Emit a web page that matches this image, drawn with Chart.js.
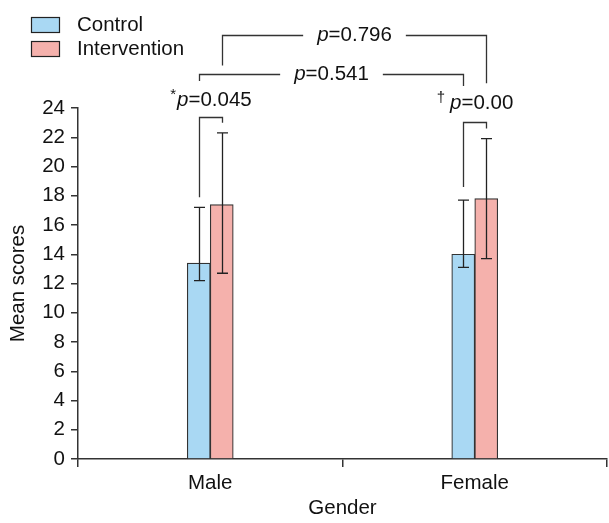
<!DOCTYPE html>
<html>
<head>
<meta charset="utf-8">
<script src="https://cdn.jsdelivr.net/npm/chart.js@4.4.1/dist/chart.umd.min.js"></script>
<style>
  html, body { margin: 0; padding: 0; background: #fff; }
</style>
</head>
<body>
<canvas id="myChart" width="609" height="523"></canvas>
<script>
// data
const groups = ['Male', 'Female'];
const seriesNames = ['Control', 'Intervention'];
const controlMean = [13.4, 14.0];
const interventionMean = [17.4, 17.8];
const controlLow = [12.2, 13.1];
const controlHigh = [17.2, 17.7];
const interventionLow = [12.7, 13.7];
const interventionHigh = [22.3, 21.9];
const yTicks = [0, 2, 4, 6, 8, 10, 12, 14, 16, 18, 20, 22, 24];
// p values: within Male, within Female, Male vs Female control, Male vs Female intervention
const pMarks = ['*', '\u2020', '', ''];
const pValues = ['0.045', '0.00', '0.541', '0.796'];

const FONT = '"Liberation Sans", Arial, sans-serif';
const FS = 20.5;
const INK = '#333333';

const lows = [controlLow, interventionLow];
const highs = [controlHigh, interventionHigh];

const errorBars = {
    id: 'errorBars',
    afterDatasetsDraw(chart) {
        const ctx = chart.ctx;
        const y = chart.scales.y;
        ctx.save();
        ctx.strokeStyle = '#222';
        ctx.lineWidth = 1.3;
        chart.data.datasets.forEach(function(ds, i) {
            chart.getDatasetMeta(i).data.forEach(function(bar, j) {
                const x = Math.round(bar.x) + 0.5;
                const yl = y.getPixelForValue(lows[i][j]);
                const yh = y.getPixelForValue(highs[i][j]);
                ctx.beginPath();
                ctx.moveTo(x, yl); ctx.lineTo(x, yh);
                ctx.moveTo(x - 5.5, yl); ctx.lineTo(x + 5.5, yl);
                ctx.moveTo(x - 5.5, yh); ctx.lineTo(x + 5.5, yh);
                ctx.stroke();
            });
        });
        ctx.restore();
    }
};

function pText(ctx, mark, value, cx, cy, measureOnly) {
    const parts = [];
    if (mark) parts.push({ t: mark, f: '15px ' + FONT, dy: -6, after: mark === '*' ? 1 : 5 });
    parts.push({ t: 'p', f: 'italic ' + FS + 'px ' + FONT, dy: 0, after: 0 });
    parts.push({ t: '=' + value, f: FS + 'px ' + FONT, dy: 0, after: 0 });
    let w = 0;
    parts.forEach(function(p) { ctx.font = p.f; p.w = ctx.measureText(p.t).width; w += p.w + p.after; });
    if (measureOnly) return w;
    let x = cx - w / 2;
    ctx.fillStyle = '#111';
    ctx.textBaseline = 'middle';
    ctx.textAlign = 'left';
    parts.forEach(function(p) {
        ctx.font = p.f;
        ctx.fillText(p.t, x, cy + p.dy);
        x += p.w + p.after;
    });
    return w;
}

const brackets = {
    id: 'brackets',
    afterDraw(chart) {
        const ctx = chart.ctx;
        const y = chart.scales.y;
        const c = chart.getDatasetMeta(0).data;
        const t = chart.getDatasetMeta(1).data;
        const specs = [
            { x1: c[0].x, x2: t[0].x, top: 23.4, l1: 17.9, l2: 23.0, inline: false, ty: 24.5, k: 0 },
            { x1: c[1].x, x2: t[1].x, top: 23.05, l1: 18.6, l2: 22.6, inline: false, ty: 24.3, k: 1 },
            { x1: c[0].x, x2: c[1].x, top: 26.3, l1: 25.85, l2: 25.5, inline: true, k: 2 },
            { x1: t[0].x, x2: t[1].x, top: 29.0, l1: 26.9, l2: 25.7, inline: true, k: 3 }
        ];
        ctx.save();
        ctx.strokeStyle = INK;
        ctx.lineWidth = 1.3;
        specs.forEach(function(s) {
            const x1 = Math.round(s.x1) + 0.5, x2 = Math.round(s.x2) + 0.5;
            const yt = Math.round(y.getPixelForValue(s.top)) + 0.5;
            const cx = (x1 + x2) / 2;
            ctx.beginPath();
            ctx.moveTo(x1, y.getPixelForValue(s.l1));
            ctx.lineTo(x1, yt);
            if (s.inline) {
                const w = pText(ctx, pMarks[s.k], pValues[s.k], cx, yt, true);
                ctx.lineTo(cx - w / 2 - 14, yt);
                ctx.moveTo(cx + w / 2 + 14, yt);
            }
            ctx.lineTo(x2, yt);
            ctx.lineTo(x2, y.getPixelForValue(s.l2));
            ctx.stroke();
            pText(ctx, pMarks[s.k], pValues[s.k], cx, s.inline ? yt : y.getPixelForValue(s.ty));
        });
        ctx.restore();
    }
};

const legendBoxes = {
    id: 'legendBoxes',
    afterDraw(chart) {
        const ctx = chart.ctx;
        ctx.save();
        chart.data.datasets.forEach(function(ds, i) {
            const top = 17 + i * 24;
            ctx.fillStyle = ds.backgroundColor;
            ctx.fillRect(31, top, 29, 16);
            ctx.strokeStyle = '#222';
            ctx.lineWidth = 1.2;
            ctx.strokeRect(31.5, top + 0.5, 28, 15);
            ctx.fillStyle = '#111';
            ctx.font = FS + 'px ' + FONT;
            ctx.textBaseline = 'middle';
            ctx.fillText(ds.label, 77, top + 8.5);
        });
        ctx.restore();
    }
};

const ctx = document.getElementById('myChart').getContext('2d');
const myChart = new Chart(ctx, {
    type: 'bar',
    data: {
        labels: groups,
        datasets: [
            {
                label: seriesNames[0],
                data: controlMean,
                backgroundColor: '#a9d8f3',
                borderColor: '#333',
                borderWidth: 1.2,
                barThickness: 23
            },
            {
                label: seriesNames[1],
                data: interventionMean,
                backgroundColor: '#f5b1ac',
                borderColor: '#333',
                borderWidth: 1.2,
                barThickness: 23
            }
        ]
    },
    options: {
        responsive: false,
        animation: false,
        layout: { padding: { top: 108, right: 2, left: 0, bottom: 0 } },
        plugins: {
            legend: { display: false },
            tooltip: { enabled: false }
        },
        scales: {
            x: {
                afterFit: function(scale) { scale.height = 64; },
                grid: { drawOnChartArea: false, drawTicks: true, tickLength: 8, color: INK, lineWidth: 1.5, offset: true },
                border: { display: true, color: INK, width: 1.5 },
                ticks: { color: '#111', font: { family: FONT, size: FS }, padding: 4 },
                title: { display: true, text: 'Gender', color: '#111', font: { family: FONT, size: FS }, padding: { top: 0, bottom: 2 } }
            },
            y: {
                min: 0,
                max: 24,
                afterFit: function(scale) { scale.width = 78; },
                afterBuildTicks: function(scale) { scale.ticks = yTicks.map(function(v) { return { value: v }; }); },
                grid: { drawOnChartArea: false, drawTicks: true, tickLength: 7, color: INK, lineWidth: 1.5 },
                border: { display: true, color: INK, width: 1.5 },
                ticks: { color: '#111', font: { family: FONT, size: FS }, padding: 6 },
                title: { display: true, text: 'Mean scores', color: '#111', font: { family: FONT, size: FS }, padding: { top: 6, bottom: 0 } }
            }
        }
    },
    plugins: [errorBars, brackets, legendBoxes]
});
</script>
</body>
</html>
